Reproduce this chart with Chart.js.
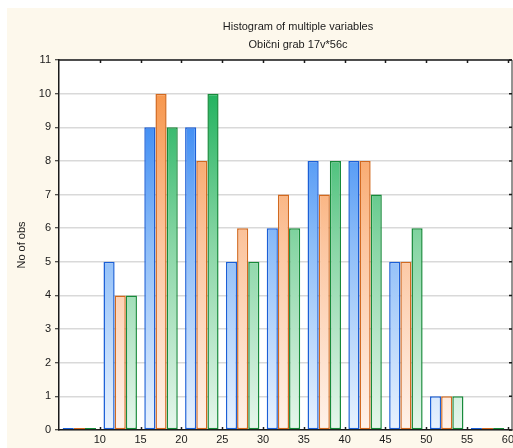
<!DOCTYPE html>
<html>
<head>
<meta charset="utf-8">
<script src="https://cdn.jsdelivr.net/npm/chart.js@4/dist/chart.umd.min.js"></script>
<style>
    html, body { margin: 0; padding: 0; background: #fff; overflow: hidden; }
    canvas { display: block; }
</style>
</head>
<body>
<canvas id="histChart" width="513" height="448"></canvas>
<script>
/* Histogram of multiple variables - three series, bins of width 5 */

// Data
const binMids = [7.5, 12.5, 17.5, 22.5, 27.5, 32.5, 37.5, 42.5, 47.5, 52.5, 57.5];
const seriesBlue = [0, 5, 9, 9, 5, 6, 8, 8, 5, 1, 0];
const seriesOrange = [0, 4, 10, 8, 6, 7, 7, 8, 5, 1, 0];
const seriesGreen = [0, 4, 9, 10, 5, 6, 8, 7, 6, 1, 0];
const xTicks = [10, 15, 20, 25, 30, 35, 40, 45, 50, 55, 60];
const yTicks = [0, 1, 2, 3, 4, 5, 6, 7, 8, 9, 10, 11];
const titleLines = ['Histogram of multiple variables', 'Obični grab 17v*56c'];

const FONT = '"Liberation Sans", Arial, sans-serif';
const CREAM = '#fdf8ec';

// Vertical gradient over the plot area (dark at top, pale at bottom)
function barGradient(stops) {
    let cache = null, key = '';
    return function(context) {
        const chart = context.chart;
        const area = chart.chartArea;
        if (!area) return stops[1];
        const k = area.top + ':' + area.bottom;
        if (!cache || key !== k) {
            const g = chart.ctx.createLinearGradient(0, area.top, 0, area.bottom);
            g.addColorStop(0, stops[0]);
            g.addColorStop(0.5, stops[1]);
            g.addColorStop(1, stops[2]);
            cache = g;
            key = k;
        }
        return cache;
    };
}

function makeDataset(label, values, border, stops) {
    return {
        label: label,
        data: binMids.map((x, i) => ({ x: x, y: values[i] })),
        backgroundColor: barGradient(stops),
        borderColor: border,
        borderWidth: 1.5,
        borderSkipped: false,
        minBarLength: 2
    };
}

// Backgrounds, title, frame and inward tick marks
const framePlugin = {
    id: 'frame',
    beforeDraw(chart) {
        const { ctx, chartArea: a, width, height } = chart;
        ctx.save();
        ctx.fillStyle = '#ffffff';
        ctx.fillRect(0, 0, width, height);
        ctx.fillStyle = CREAM;
        ctx.fillRect(7, 8, width - 7, height - 8);
        ctx.fillStyle = '#ffffff';
        ctx.fillRect(a.left, a.top, a.right - a.left, a.bottom - a.top);
        // title, centred a bit right of the plot centre as in the original
        ctx.fillStyle = '#1a1a1a';
        ctx.font = '11px ' + FONT;
        ctx.textAlign = 'center';
        ctx.textBaseline = 'middle';
        titleLines.forEach((t, i) => ctx.fillText(t, 298, 27 + i * 18));
        ctx.restore();
    },
    afterDraw(chart) {
        const { ctx, chartArea: a, scales } = chart;
        ctx.save();
        ctx.lineWidth = 1.5;
        // top edge
        ctx.strokeStyle = '#1a1a1a';
        ctx.beginPath();
        ctx.moveTo(a.left, a.top);
        ctx.lineTo(a.right, a.top);
        ctx.stroke();
        // right edge
        ctx.strokeStyle = '#707070';
        ctx.beginPath();
        ctx.moveTo(a.right, a.top);
        ctx.lineTo(a.right, a.bottom);
        ctx.stroke();
        // inward ticks
        ctx.strokeStyle = '#1a1a1a';
        ctx.beginPath();
        xTicks.forEach(v => {
            const px = Math.round(scales.x.getPixelForValue(v)) + 0.5;
            ctx.moveTo(px, a.bottom);
            ctx.lineTo(px, a.bottom - 3);
            ctx.moveTo(px, a.top);
            ctx.lineTo(px, a.top + 3);
        });
        yTicks.forEach(v => {
            const py = scales.y.getPixelForValue(v);
            ctx.moveTo(a.right, py);
            ctx.lineTo(a.right - 3, py);
        });
        ctx.stroke();
        ctx.restore();
    }
};

function initHistogram() {
    const ctx = document.getElementById('histChart');
    if (!ctx) return;

    const data = {
        datasets: [
            makeDataset('Blue', seriesBlue, '#1b5fd6', ['#1a76f2', '#8dbdf8', '#e8f2fe']),
            makeDataset('Orange', seriesOrange, '#d2691f', ['#f68d3c', '#fcc6a0', '#fff2ea']),
            makeDataset('Green', seriesGreen, '#178a3a', ['#0dab50', '#88d6a5', '#e6f6ec'])
        ]
    };

    const config = {
        type: 'bar',
        data: data,
        options: {
            responsive: false,
            animation: false,
            layout: {
                padding: { left: 0, right: 1, top: 60, bottom: 0 }
            },
            datasets: {
                bar: {
                    categoryPercentage: 0.82,
                    barPercentage: 1.0
                }
            },
            plugins: {
                legend: { display: false },
                tooltip: { enabled: false },
                title: { display: false }
            },
            scales: {
                x: {
                    type: 'linear',
                    min: 5,
                    max: 60.5,
                    offset: false,
                    afterBuildTicks: s => { s.ticks = xTicks.map(v => ({ value: v })); },
                    afterFit: s => {
                        s.height = 18;
                        s.paddingLeft = 0;
                        s.paddingRight = 0;
                    },
                    grid: { display: false, drawTicks: false },
                    border: { display: true, color: '#1a1a1a', width: 1.5 },
                    ticks: {
                        color: '#1a1a1a',
                        padding: 3,
                        maxRotation: 0,
                        autoSkip: false,
                        font: { family: FONT, size: 11 }
                    }
                },
                y: {
                    min: 0,
                    max: 11,
                    afterBuildTicks: s => { s.ticks = yTicks.map(v => ({ value: v })); },
                    afterFit: s => { s.width = 59; },
                    grid: {
                        color: '#d9d9d9',
                        lineWidth: 1.5,
                        drawTicks: true,
                        tickLength: 4,
                        tickColor: '#1a1a1a',
                        tickWidth: 1
                    },
                    border: { display: true, color: '#1a1a1a', width: 1.5 },
                    ticks: {
                        color: '#1a1a1a',
                        padding: 4,
                        font: { family: FONT, size: 11 }
                    },
                    title: {
                        display: true,
                        text: 'No of obs',
                        color: '#1a1a1a',
                        font: { family: FONT, size: 11 },
                        padding: { top: 15, bottom: 0 }
                    }
                }
            }
        },
        plugins: [framePlugin]
    };

    new Chart(ctx, config);
}

initHistogram();
</script>
</body>
</html>
